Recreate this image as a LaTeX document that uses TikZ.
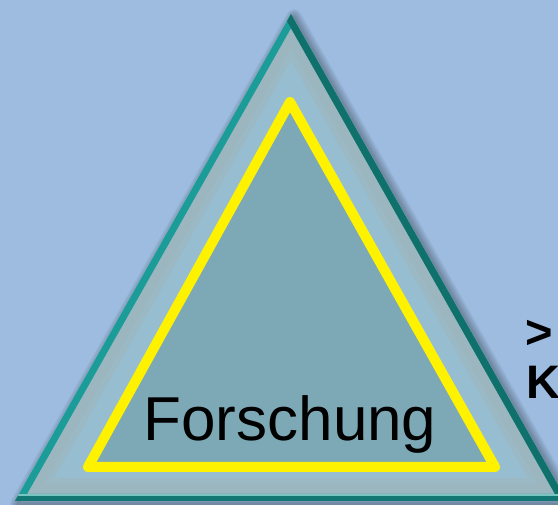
\documentclass[tikz,border=0pt]{standalone}
\usepackage{fontspec}
\setmainfont{Liberation Sans}
\definecolor{bgblue}{HTML}{9DBCE0}
\definecolor{lightfill}{HTML}{97BED0}
\definecolor{innerfill}{HTML}{7DA9B6}
\definecolor{tealedge}{HTML}{1C9C98}
\definecolor{darkteal}{HTML}{10716C}
\definecolor{bevelgrey}{HTML}{9FB3B6}
\tikzset{
  ylw/.style={draw=yellow, line width=10pt, line join=round, fill=innerfill},
  bigtext/.style={font=\fontsize{62}{70}\selectfont, inner sep=0pt, text=black},
  sidetext/.style={font=\bfseries\fontsize{47}{52}\selectfont, inner sep=0pt, text=black, anchor=base west}
}
\begin{document}
\begin{tikzpicture}[x=1pt,y=-1pt]
\useasboundingbox (0,0) rectangle (558,505);
\clip (0,0) rectangle (558,505);
\fill[bgblue] (0,0) rectangle (558,505);
\coordinate (A) at (291,14);
\coordinate (B) at (15,501);
\coordinate (C) at (567,501);
% shadow
\foreach \w in {2,4,...,16}{
  \draw[black, opacity=0.035, line width=\w pt, line join=round] ([shift={(3,3)}]A) -- ([shift={(3,3)}]B) -- ([shift={(3,3)}]C) -- cycle;
}
\fill[lightfill] (A) -- (B) -- (C) -- cycle;
\begin{scope}
  \clip (A) -- (B) -- (C) -- cycle;
  \draw[bevelgrey, opacity=0.7, line width=34pt] (A) -- (B) -- (C) -- cycle;
  \draw[bevelgrey!60!lightfill, opacity=0.7, line width=46pt] (A) -- (B) -- (C) -- cycle;
  \draw[tealedge, line width=14pt] (A) -- (B) -- (C) -- cycle;
  \draw[darkteal, line width=14pt] (A) -- (C);
  \draw[darkteal!85!tealedge, line width=12pt] (B) -- (C);
  \draw[tealedge!60!white, line width=2pt] ([shift={(0,-5.5)}]B) -- ([shift={(0,-5.5)}]C);
\end{scope}
% inner triangle
\coordinate (P) at (290,102);
\coordinate (Q) at (88,467);
\coordinate (R) at (495,467);
\draw[ylw] (P) -- (Q) -- (R) -- cycle;
\node[bigtext, anchor=base] (f) at (290,441) {Forschung};
\node[sidetext] (gt) at (525,349) {>};
\node[sidetext] (k) at (526,399) {K};
\end{tikzpicture}
\end{document}
